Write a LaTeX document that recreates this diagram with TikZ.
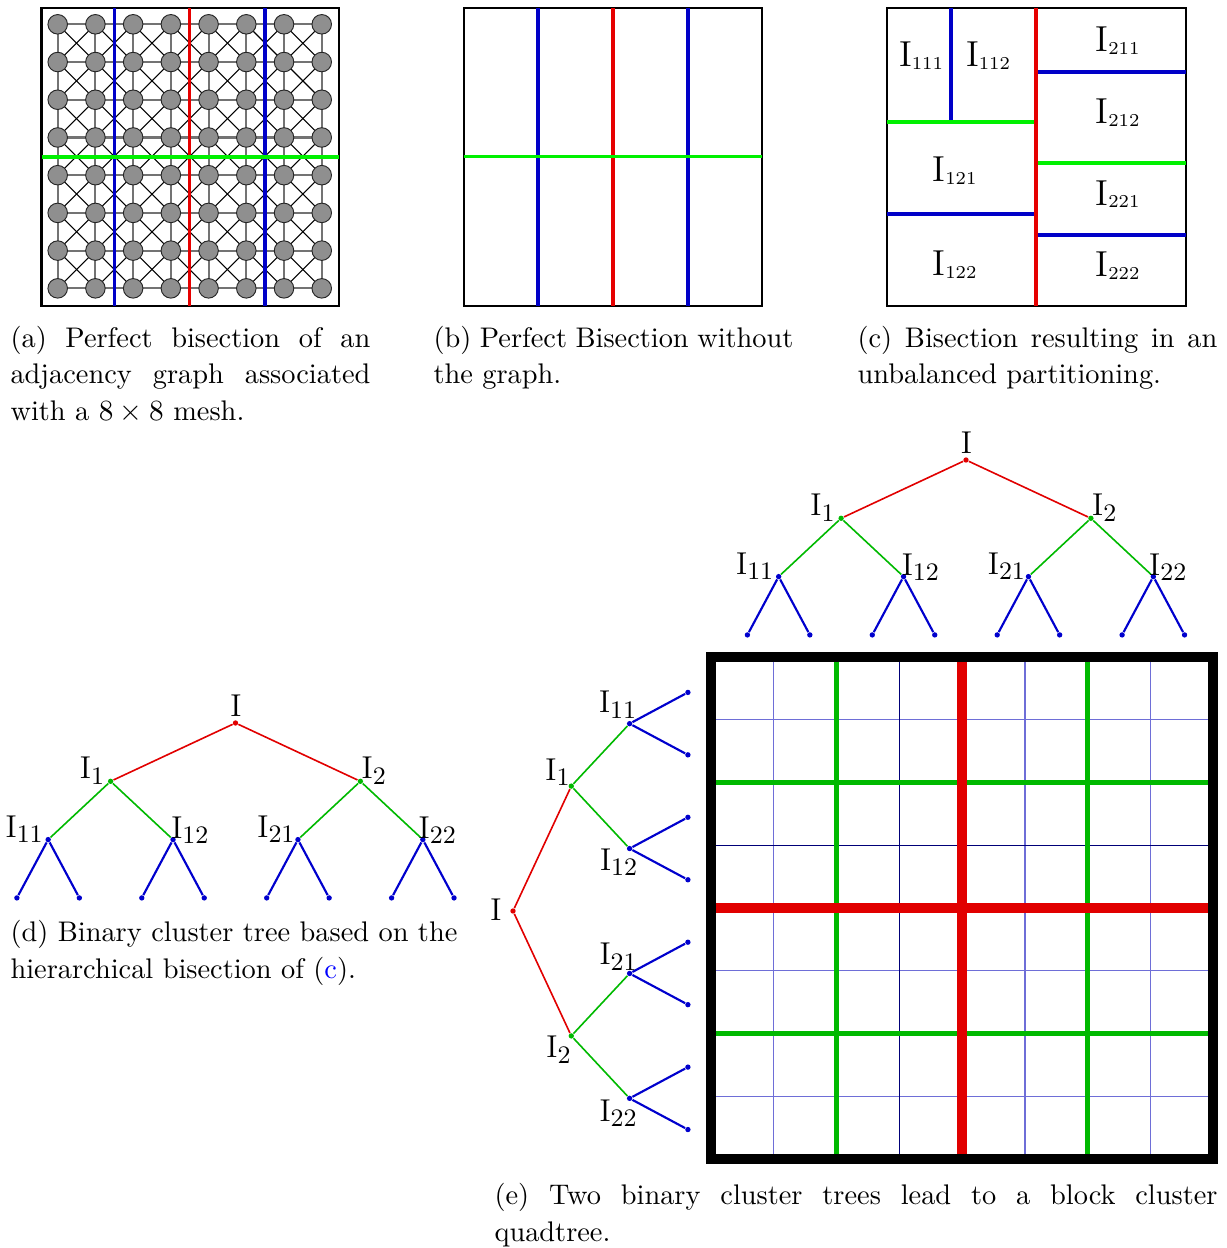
\documentclass[tikz,border=0pt]{standalone}
\usetikzlibrary{calc}
\definecolor{pRed}{RGB}{230,0,0}
\definecolor{pBlue}{RGB}{0,0,200}
\definecolor{pGreen}{RGB}{0,240,0}
\definecolor{tRed}{RGB}{225,0,0}
\definecolor{tGreen}{RGB}{0,185,0}
\definecolor{tBlue}{RGB}{0,0,205}
\definecolor{nodeGray}{RGB}{143,143,143}
\definecolor{edgeGray}{RGB}{115,115,115}
\definecolor{linkBlue}{RGB}{0,0,255}
\definecolor{thinBlue}{RGB}{110,110,215}
\definecolor{thinNavy}{RGB}{0,0,120}
\newcommand\capfont{\fontsize{10.6}{13.64}\selectfont}
\newcommand\tlfont{\fontsize{11.8}{14}\selectfont}
\newcommand\pcfont{\fontsize{13.5}{15}\selectfont}
\newcommand\Itl[1]{I\raisebox{-2pt}{\fontsize{9.4}{10}\selectfont #1}}
\newcommand\Ipc[1]{I\raisebox{-1pt}{\fontsize{6.8}{7}\selectfont #1}}
\newcommand\drawtree[1]{%
  \node[tdot=tRed] (#1r) at (0,0) {};
  \node[tdot=tGreen] (#1a) at (-124.9,58.3) {};
  \node[tdot=tGreen] (#1b) at (124.9,58.3) {};
  \node[tdot=tBlue] (#1aa) at (-187.35,116.6) {};
  \node[tdot=tBlue] (#1ab) at (-62.45,116.6) {};
  \node[tdot=tBlue] (#1ba) at (62.45,116.6) {};
  \node[tdot=tBlue] (#1bb) at (187.35,116.6) {};
  \foreach \k in {1,...,8} \node[tdot=tBlue] (#1L\k) at ({-281.05+62.45*\k},174.9) {};
  \draw[redge] (#1r) -- (#1a);
  \draw[redge] (#1r) -- (#1b);
  \draw[gedge] (#1a) -- (#1aa);
  \draw[gedge] (#1a) -- (#1ab);
  \draw[gedge] (#1b) -- (#1ba);
  \draw[gedge] (#1b) -- (#1bb);
  \draw[bedge] (#1aa) -- (#1L1);
  \draw[bedge] (#1aa) -- (#1L2);
  \draw[bedge] (#1ab) -- (#1L3);
  \draw[bedge] (#1ab) -- (#1L4);
  \draw[bedge] (#1ba) -- (#1L5);
  \draw[bedge] (#1ba) -- (#1L6);
  \draw[bedge] (#1bb) -- (#1L7);
  \draw[bedge] (#1bb) -- (#1L8);
}
\begin{document}
\begin{tikzpicture}[x=0.3737pt, y=-0.3737pt,
  meshnode/.style={circle, inner sep=0pt, minimum size=7.3pt, fill=nodeGray, draw=black!85, line width=0.35pt},
  meshedge/.style={edgeGray, line width=0.8pt},
  meshdiag/.style={black, line width=0.4pt},
  framebox/.style={black, line width=0.75pt},
  cutline/.style={line width=1.2pt},
  tdot/.style={circle, inner sep=0pt, minimum size=2pt, fill=#1},
  redge/.style={tRed, line width=0.6pt},
  gedge/.style={tGreen, line width=0.6pt},
  bedge/.style={tBlue, line width=0.8pt},
  tlab/.style={inner sep=0pt, font=\tlfont},
  pclab/.style={inner sep=0pt, font=\pcfont, anchor=base},
  capbox/.style={inner sep=0pt, anchor=base west, align=justify, font=\capfont},
  mthin/.style={thinBlue, line width=0.5pt},
  mnavy/.style={thinNavy, line width=0.4pt},
  mgreen/.style={tGreen, line width=1.9pt},
  mred/.style={tRed, line width=3.9pt}]
\useasboundingbox (0,0) rectangle (1227,1248);

% ---------- panel (a) ----------
\foreach \i in {0,...,7}{\foreach \j in {0,...,7}{
  \coordinate (m-\i-\j) at ({57.7+37.72*\i},{24.3+37.72*\j});
}}
\foreach \i in {0,...,7}{\foreach \j in {0,...,6}{
  \pgfmathtruncatemacro\k{\j+1}
  \draw[meshedge] (m-\i-\j) -- (m-\i-\k);
  \draw[meshedge] (m-\j-\i) -- (m-\k-\i);
}}
\foreach \i in {0,...,6}{\foreach \j in {0,...,6}{
  \pgfmathtruncatemacro\ii{\i+1}
  \pgfmathtruncatemacro\jj{\j+1}
  \draw[meshdiag] (m-\i-\j) -- (m-\ii-\jj);
  \draw[meshdiag] (m-\ii-\j) -- (m-\i-\jj);
}}
\foreach \i in {0,...,7}{\foreach \j in {0,...,7}{
  \node[meshnode] (c-\i-\j) at (m-\i-\j) {};
}}
\draw[framebox] (41.5,8) rectangle (339,306);
\draw[cutline, pBlue] (114.5,8) -- (114.5,306);
\draw[cutline, pRed] (189.5,8) -- (189.5,306);
\draw[cutline, pBlue] (265,8) -- (265,306);
\draw[cutline, pGreen] (41.5,157) -- (339,157);

% ---------- panel (b) ----------
\draw[framebox] (463.5,8) rectangle (762,306);
\draw[cutline, pBlue] (538,8) -- (538,306);
\draw[cutline, pRed] (613,8) -- (613,306);
\draw[cutline, pBlue] (688,8) -- (688,306);
\draw[cutline, pGreen] (463.5,156.5) -- (762,156.5);

% ---------- panel (c) ----------
\draw[framebox] (887,8) rectangle (1186,306);
\draw[cutline, pBlue] (951,8) -- (951,122);
\draw[cutline, pGreen] (887,122) -- (1036,122);
\draw[cutline, pBlue] (887,214) -- (1036,214);
\draw[cutline, pBlue] (1036,72) -- (1186,72);
\draw[cutline, pGreen] (1036,163) -- (1186,163);
\draw[cutline, pBlue] (1036,235) -- (1186,235);
\draw[cutline, pRed] (1036,8) -- (1036,306);
\node[pclab] (c111) at (921,66.5) {\Ipc{111}};
\node[pclab] (c112) at (988,66.5) {\Ipc{112}};
\node[pclab] (c121) at (954.5,181.5) {\Ipc{121}};
\node[pclab] (c122) at (954.5,275.5) {\Ipc{122}};
\node[pclab] (c211) at (1117.5,51.5) {\Ipc{211}};
\node[pclab] (c212) at (1117.5,123.5) {\Ipc{212}};
\node[pclab] (c221) at (1117.5,205) {\Ipc{221}};
\node[pclab] (c222) at (1117.5,276.5) {\Ipc{222}};

% ---------- captions ----------
\node[capbox, text width=134.5pt] (capa) at (10,347) {(a) Perfect bisection of an\linebreak adjacency graph associated\linebreak with a $8\times8$ mesh.};
\node[capbox, text width=134.5pt] (capb) at (433,347) {(b) Perfect Bisection without\linebreak the graph.};
\node[capbox, text width=134.5pt] (capc) at (857,347) {(c) Bisection resulting in an\linebreak unbalanced partitioning.};
\node[capbox, text width=167pt] (capd) at (10,941.5) {(d) Binary cluster tree based on the\linebreak hierarchical bisection of (\textcolor{linkBlue}{c}).};
\node[capbox, text width=270.2pt] (cape) at (494,1204.5) {(e) Two binary cluster trees lead to a block cluster\linebreak quadtree.};

% ---------- tree (d) ----------
\begin{scope}[shift={(235.5,723)}]
  \drawtree{d}
\end{scope}
\node[tlab, anchor=base] (ldr) at ($(dr)+(0.5,-6.3)$) {I};
\node[tlab, anchor=base east] (lda) at ($(da)+(-6,-2.5)$) {\Itl{1}};
\node[tlab, anchor=base west] (ldb) at ($(db)+(0.7,-2.5)$) {\Itl{2}};
\node[tlab, anchor=base east] (ldaa) at ($(daa)+(-5,-2)$) {\Itl{11}};
\node[tlab, anchor=base west] (ldab) at ($(dab)+(-2.3,-1.5)$) {\Itl{12}};
\node[tlab, anchor=base east] (ldba) at ($(dba)+(-3,-2)$) {\Itl{21}};
\node[tlab, anchor=base west] (ldbb) at ($(dbb)+(-4.7,-1.5)$) {\Itl{22}};

% ---------- top tree (e) ----------
\begin{scope}[shift={(966,460)}]
  \drawtree{t}
\end{scope}
\node[tlab, anchor=base] (ltr) at ($(tr)+(0.5,-6.3)$) {I};
\node[tlab, anchor=base east] (lta) at ($(ta)+(-6,-2.5)$) {\Itl{1}};
\node[tlab, anchor=base west] (ltb) at ($(tb)+(0.7,-2.5)$) {\Itl{2}};
\node[tlab, anchor=base east] (ltaa) at ($(taa)+(-5,-2)$) {\Itl{11}};
\node[tlab, anchor=base west] (ltab) at ($(tab)+(-2.3,-1.5)$) {\Itl{12}};
\node[tlab, anchor=base east] (ltba) at ($(tba)+(-3,-2)$) {\Itl{21}};
\node[tlab, anchor=base west] (ltbb) at ($(tbb)+(-4.7,-1.5)$) {\Itl{22}};

% ---------- left tree (e) ----------
\begin{scope}[shift={(513,911)}, x={(0pt,-0.3737pt)}, y={(0.3737pt,0pt)}]
  \drawtree{s}
\end{scope}
\node[tlab, anchor=base east] (lsr) at ($(sr)+(-11,9)$) {I};
\node[tlab, anchor=base east] (lsa) at ($(sa)+(-1.3,-6)$) {\Itl{1}};
\node[tlab, anchor=base east] (lsb) at ($(sb)+(-0.3,22)$) {\Itl{2}};
\node[tlab, anchor=base east] (lsaa) at ($(saa)+(7,-11)$) {\Itl{11}};
\node[tlab, anchor=base east] (lsab) at ($(sab)+(8,22)$) {\Itl{12}};
\node[tlab, anchor=base east] (lsba) at ($(sba)+(7.5,-8.5)$) {\Itl{21}};
\node[tlab, anchor=base east] (lsbb) at ($(sbb)+(7.5,23)$) {\Itl{22}};

% ---------- block matrix ----------
\foreach \k in {1,5,7}{
  \draw[mthin] ({711+62.8*\k},657) -- ({711+62.8*\k},1159);
  \draw[mthin] (711,{656.8+62.8*\k}) -- (1213.4,{656.8+62.8*\k});
}
\draw[mnavy] (899.4,657) -- (899.4,1159);
\draw[mnavy] (711,845.2) -- (1213.4,845.2);
\foreach \k in {2,6}{
  \draw[mgreen] (711,{656.8+62.8*\k}) -- (1213.4,{656.8+62.8*\k});
  \draw[mgreen] ({711+62.8*\k},657) -- ({711+62.8*\k},1159);
}
\draw[mred] (711,908) -- (1213.4,908);
\draw[mred] (962.2,657) -- (962.2,1159);
\draw[black, line width=3.74pt] (711,657) rectangle (1213.4,1159);
\end{tikzpicture}
\end{document}
